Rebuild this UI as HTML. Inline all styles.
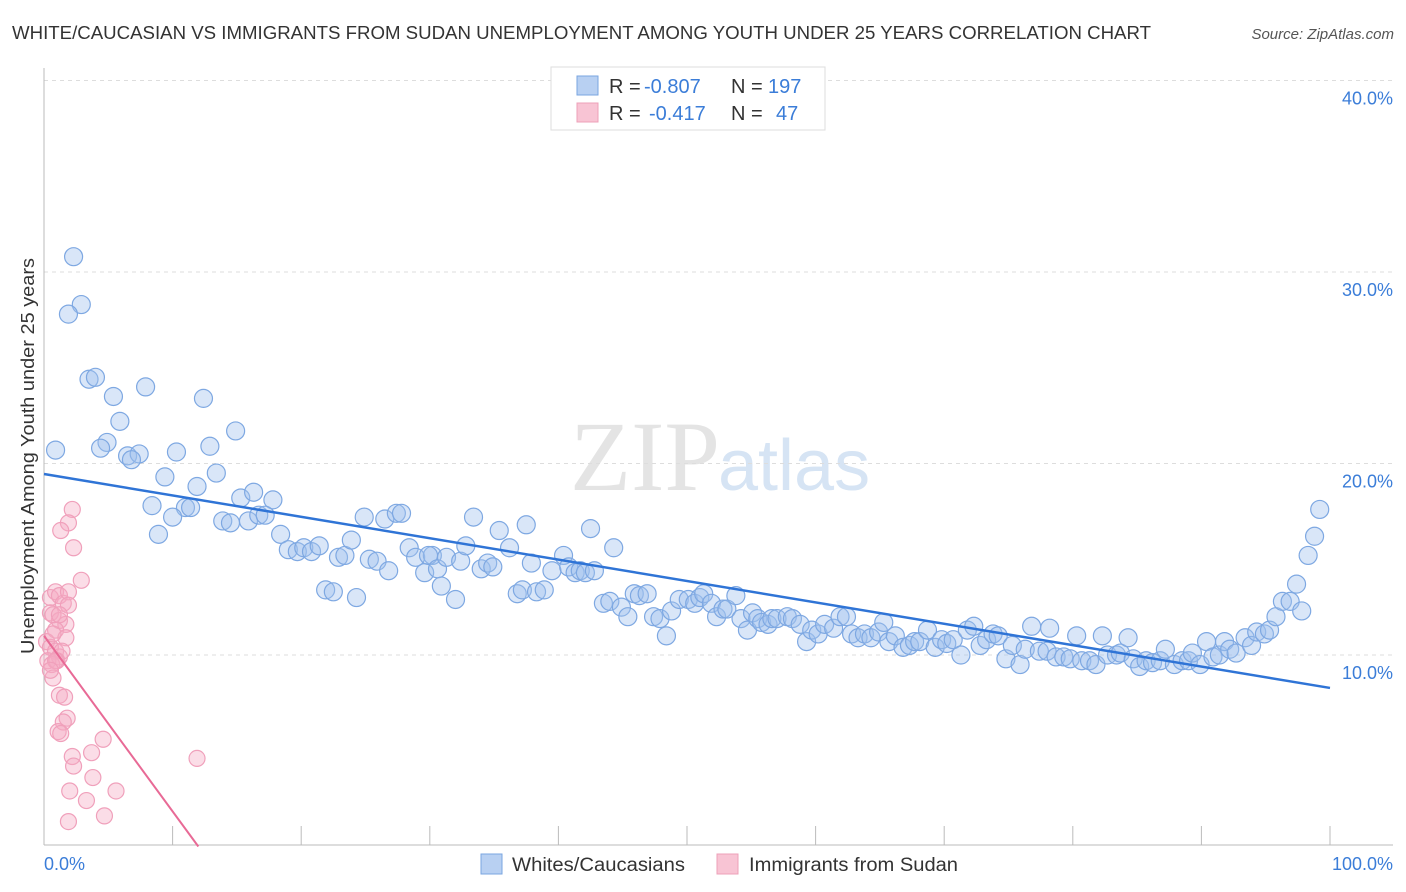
<!DOCTYPE html>
<html><head><meta charset="utf-8">
<style>
body{margin:0;background:#fff;font-family:"Liberation Sans",sans-serif;}
#wrap{position:relative;width:1406px;height:892px;overflow:hidden;}
</style></head>
<body>
<div id="wrap">
<svg id="chart" width="1406" height="892" xmlns="http://www.w3.org/2000/svg">
<text x="12" y="39" font-size="18" fill="#333" textLength="1139" lengthAdjust="spacingAndGlyphs">WHITE/CAUCASIAN VS IMMIGRANTS FROM SUDAN UNEMPLOYMENT AMONG YOUTH UNDER 25 YEARS CORRELATION CHART</text>
<text x="1394" y="39" font-size="15" fill="#555" text-anchor="end" font-style="italic">Source: ZipAtlas.com</text>
<text x="720" y="490" font-size="100" fill="#e4e4e4" text-anchor="end" font-family="Liberation Serif,serif">ZIP</text>
<text x="718" y="490" font-size="72" fill="#d6e4f4">atlas</text>
<g id="grid"></g>
<g id="axes"></g>
<g id="pinkPts"></g>
<g id="bluePts"></g>
<g id="lines"></g>
<text transform="translate(34,456) rotate(-90)" font-size="18" fill="#333" text-anchor="middle" textLength="396" lengthAdjust="spacingAndGlyphs">Unemployment Among Youth under 25 years</text>
<g>
<rect x="551" y="67" width="274" height="63" fill="#fff" stroke="#ddd"/>
<rect x="577" y="76" width="21" height="19" fill="#b8d0f2" stroke="#7aa6e0"/>
<text x="609" y="93" font-size="20" fill="#333">R =</text>
<text x="644" y="93" font-size="20" fill="#3b7dd8">-0.807</text>
<text x="731" y="93" font-size="20" fill="#333">N =</text>
<text x="768" y="93" font-size="20" fill="#3b7dd8">197</text>
<rect x="577" y="103" width="21" height="19" fill="#f8c4d4" stroke="#eea0b8"/>
<text x="609" y="120" font-size="20" fill="#333">R =</text>
<text x="649" y="120" font-size="20" fill="#3b7dd8">-0.417</text>
<text x="731" y="120" font-size="20" fill="#333">N =</text>
<text x="776" y="120" font-size="20" fill="#3b7dd8">47</text>
</g>
<g>
<rect x="481" y="854" width="21" height="20" fill="#b8d0f2" stroke="#7aa6e0"/>
<text x="512" y="871" font-size="19" fill="#333" textLength="173" lengthAdjust="spacingAndGlyphs">Whites/Caucasians</text>
<rect x="717" y="854" width="21" height="20" fill="#f8c4d4" stroke="#eea0b8"/>
<text x="749" y="871" font-size="19" fill="#333" textLength="209" lengthAdjust="spacingAndGlyphs">Immigrants from Sudan</text>
</g>
<text x="44" y="870" font-size="18" fill="#3b7dd8">0.0%</text>
<text x="1393" y="870" font-size="18" fill="#3b7dd8" text-anchor="end">100.0%</text>
</svg>
</div>
<script>
const yTicks=[10,20,30,40];
const yTickLabels=["10.0%","20.0%","30.0%","40.0%"];
const xTicks=[0,10,20,30,40,50,60,70,80,90,100];
const blueX=[2.3,2.9,1.9,3.5,4.0,0.9,5.4,7.9,12.4,5.9,4.9,4.4,6.5,7.4,6.8,10.3,12.9,14.9,9.4,13.4,11.9,8.4,8.9,11.0,11.4,10.0,13.9,14.5,15.3,16.3,17.8,15.9,16.7,17.2,18.4,19.0,19.7,20.2,20.8,21.4,22.9,23.4,21.9,22.5,24.3,23.9,24.9,25.3,25.9,26.8,26.5,27.4,27.8,28.4,28.9,29.6,30.2,29.9,30.6,30.9,31.3,32.0,32.4,32.8,33.4,34.0,34.5,34.9,35.4,36.2,36.8,37.2,37.5,37.9,38.3,38.9,39.5,40.4,40.8,41.3,41.7,42.1,42.8,42.5,43.5,44.0,44.3,44.9,45.4,45.9,46.3,46.9,47.4,47.9,48.4,48.8,49.4,50.1,50.6,51.0,51.3,51.9,52.3,52.8,53.1,53.8,54.2,54.7,55.1,55.5,55.8,56.3,56.6,57.0,57.8,58.2,58.8,59.3,59.7,60.2,60.7,61.4,61.9,62.4,62.8,63.3,63.8,64.3,64.9,65.3,65.7,66.2,66.8,67.3,67.7,68.1,68.7,69.3,69.8,70.2,70.7,71.3,71.8,72.3,72.8,73.3,73.8,74.2,74.8,75.3,75.9,76.3,76.8,77.4,78.0,78.2,78.7,79.3,79.8,80.3,80.7,81.3,81.8,82.3,82.7,83.4,83.7,84.3,84.7,85.2,85.7,86.2,86.8,87.2,87.9,88.5,89.0,89.3,89.9,90.4,90.9,91.4,91.8,92.2,92.7,93.4,93.9,94.3,94.9,95.3,95.8,96.3,96.9,97.4,97.8,98.3,98.8,99.2];
const blueY=[30.8,28.3,27.8,24.4,24.5,20.7,23.5,24.0,23.4,22.2,21.1,20.8,20.4,20.5,20.2,20.6,20.9,21.7,19.3,19.5,18.8,17.8,16.3,17.7,17.7,17.2,17.0,16.9,18.2,18.5,18.1,17.0,17.3,17.3,16.3,15.5,15.4,15.6,15.4,15.7,15.1,15.2,13.4,13.3,13.0,16.0,17.2,15.0,14.9,14.4,17.1,17.4,17.4,15.6,15.1,14.3,15.2,15.2,14.5,13.6,15.1,12.9,14.9,15.7,17.2,14.5,14.8,14.6,16.5,15.6,13.2,13.4,16.8,14.8,13.3,13.4,14.4,15.2,14.6,14.3,14.4,14.3,14.4,16.6,12.7,12.8,15.6,12.5,12.0,13.2,13.1,13.2,12.0,11.9,11.0,12.3,12.9,12.9,12.7,13.0,13.2,12.7,12.0,12.4,12.4,13.1,11.9,11.3,12.2,11.9,11.7,11.6,11.9,11.9,12.0,11.9,11.6,10.7,11.3,11.1,11.6,11.4,12.0,12.0,11.1,10.9,11.1,10.9,11.2,11.7,10.7,11.0,10.4,10.5,10.7,10.7,11.3,10.4,10.8,10.6,10.8,10.0,11.3,11.5,10.5,10.8,11.1,11.0,9.8,10.5,9.5,10.3,11.5,10.2,10.2,11.4,9.9,9.9,9.8,11.0,9.7,9.7,9.5,11.0,10.0,10.0,10.1,10.9,9.8,9.4,9.7,9.6,9.7,10.3,9.5,9.7,9.7,10.1,9.5,10.7,9.9,10.0,10.7,10.3,10.1,10.9,10.5,11.2,11.1,11.3,12.0,12.8,12.8,13.7,12.3,15.2,16.2,17.6];
const pinkX=[0.5,0.9,1.2,1.5,0.5,1.2,1.7,0.9,1.7,0.2,0.5,0.9,1.2,1.4,0.3,0.6,1.0,0.7,1.2,1.6,1.8,1.5,1.1,2.2,2.3,3.7,4.6,3.8,2.0,3.3,5.6,4.7,1.9,11.9,2.2,1.9,1.3,2.3,2.9,1.9,1.9,0.7,1.2,0.7,0.9,0.5,1.3];
const pinkY=[13.0,13.3,13.1,12.7,12.2,11.8,11.6,11.3,10.9,10.7,10.4,10.2,9.9,10.2,9.7,9.5,9.7,8.8,7.9,7.8,6.7,6.5,6.0,4.7,4.2,4.9,5.6,3.6,2.9,2.4,2.9,1.6,1.3,4.6,17.6,16.9,16.5,15.6,13.9,13.3,12.6,12.1,12.1,11.1,9.7,9.2,5.9];
const blueLine=[19.45,8.28];
const pinkLine=[11.0,0,12.0];
const NS="http://www.w3.org/2000/svg";
const X=v=>44+v*12.86;
const Y=v=>846.5-v*19.15;
function mk(tag,attrs,parent){const e=document.createElementNS(NS,tag);for(const k in attrs)e.setAttribute(k,attrs[k]);parent.appendChild(e);return e;}
const grid=document.getElementById('grid'),axes=document.getElementById('axes');
yTicks.forEach((t,i)=>{
  const l=mk('line',{x1:44,x2:1393,y1:Y(t),y2:Y(t),stroke:'#ddd','stroke-dasharray':'4,4'},grid);
  
  
  const tx=mk('text',{x:1393,y:Y(t)+24,'font-size':18,fill:'#3b7dd8','text-anchor':'end'},axes);
  tx.textContent=yTickLabels[i];
  
  
});
const ax=mk('line',{x1:44,x2:44,y1:68,y2:845,stroke:'#bbb'},axes);


const bx=mk('line',{x1:44,x2:1393,y1:845,y2:845,stroke:'#bbb'},axes);


xTicks.forEach(t=>{
  const l=mk('line',{x1:X(t),x2:X(t),y1:826,y2:845,stroke:'#bbb'},axes);
  
  
});
const pg=document.getElementById('pinkPts');
pinkX.forEach((v,i)=>{
  const c=mk('circle',{cx:X(v),cy:Y(pinkY[i]),r:8,fill:'rgba(246,170,195,0.4)',stroke:'#f0a0bb','stroke-width':1.2},pg);
  
  
});
const bg=document.getElementById('bluePts');
blueX.forEach((v,i)=>{
  const c=mk('circle',{cx:X(v),cy:Y(blueY[i]),r:9,fill:'rgba(160,192,238,0.4)',stroke:'#7ea8e2','stroke-width':1.2},bg);
  
  
});
const lg=document.getElementById('lines');
const bl=mk('line',{x1:X(0),y1:Y(blueLine[0]),x2:X(100),y2:Y(blueLine[1]),stroke:'#2f74d6','stroke-width':2.5},lg);


const pl=mk('line',{x1:X(0),y1:Y(pinkLine[0]),x2:X(pinkLine[2]),y2:Y(pinkLine[1]),stroke:'#e86a96','stroke-width':2},lg);


</script>
</body></html>
